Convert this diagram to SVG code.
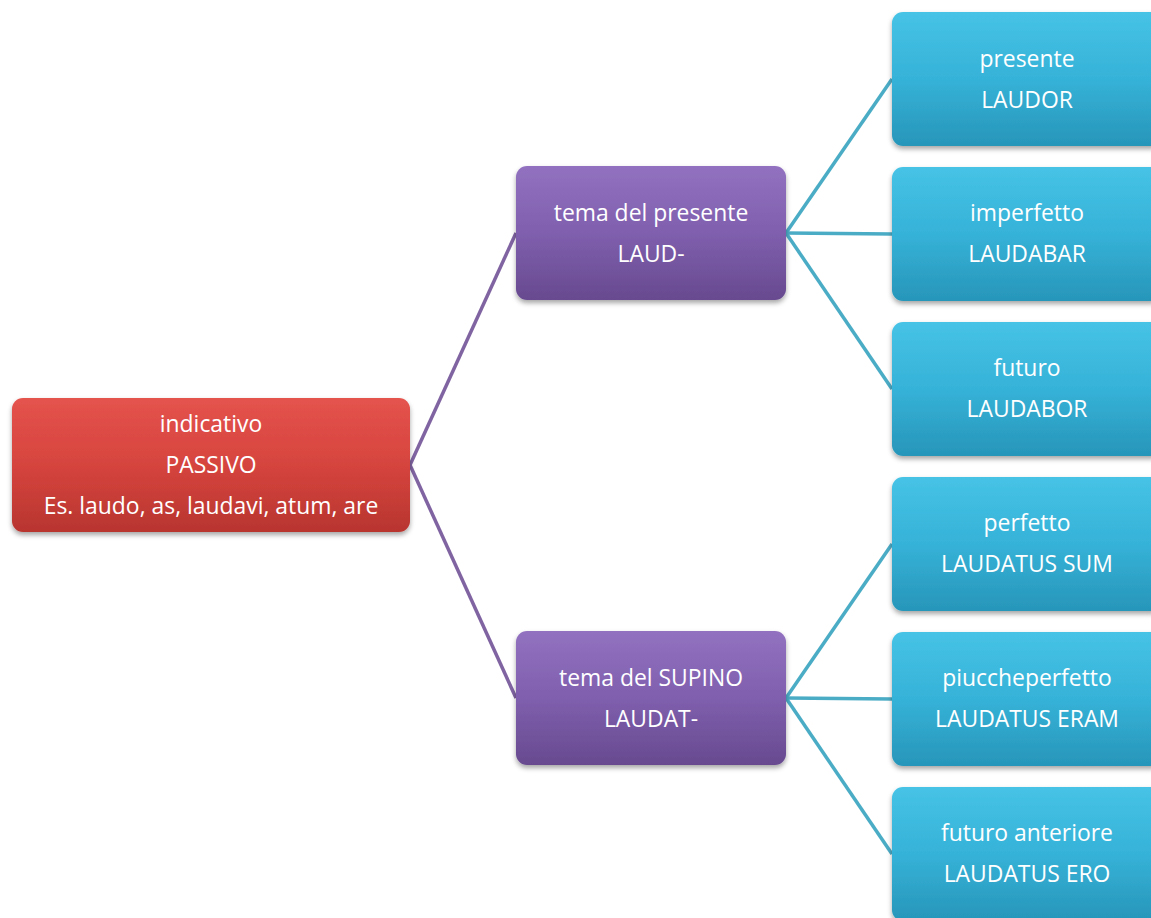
<svg xmlns="http://www.w3.org/2000/svg" width="1151" height="918" viewBox="0 0 1151 918">
<style>
.t{font-family:"Open Sans","Liberation Sans",Arial,sans-serif;font-size:22.9px;font-weight:500;fill:#ffffff;text-anchor:middle}
.cp{stroke:#8064a2;stroke-width:3.5;fill:none}
.cb{stroke:#4bacc6;stroke-width:3.5;fill:none}
</style>
<defs>
<linearGradient id="gr" x1="0" y1="0" x2="0" y2="1"><stop offset="0" stop-color="#e5534e"/><stop offset="0.5" stop-color="#d6443e"/><stop offset="1" stop-color="#b8352f"/></linearGradient>
<linearGradient id="gp" x1="0" y1="0" x2="0" y2="1"><stop offset="0" stop-color="#9272c0"/><stop offset="0.5" stop-color="#7f5fae"/><stop offset="1" stop-color="#674a8f"/></linearGradient>
<linearGradient id="gb" x1="0" y1="0" x2="0" y2="1"><stop offset="0" stop-color="#46c3e6"/><stop offset="0.5" stop-color="#36b2d8"/><stop offset="1" stop-color="#2796b9"/></linearGradient>
<filter id="sh" x="-10%" y="-10%" width="120%" height="130%"><feDropShadow dx="0" dy="3" stdDeviation="2.5" flood-color="#000" flood-opacity="0.35"/></filter>
</defs>
<g id="connectors">
<path class="cp" d="M410 465 L516 233"/>
<path class="cp" d="M410 465 L516 698"/>
<path class="cb" d="M786 233 L892 79"/>
<path class="cb" d="M786 233 L892 234"/>
<path class="cb" d="M786 233 L892 389"/>
<path class="cb" d="M786 698 L892 544"/>
<path class="cb" d="M786 698 L892 699"/>
<path class="cb" d="M786 698 L892 854"/>
</g>
<g id="n-indicativo">
<rect x="12" y="398" width="398" height="134" rx="11" fill="url(#gr)" filter="url(#sh)"/>
<text class="t" x="211" y="432">indicativo</text>
<text class="t" x="211" y="473">PASSIVO</text>
<text class="t" x="211" y="514">Es. laudo, as, laudavi, atum, are</text>
</g>
<g id="n-tema-presente">
<rect x="516" y="166" width="270" height="134" rx="11" fill="url(#gp)" filter="url(#sh)"/>
<text class="t" x="651" y="221">tema del presente</text>
<text class="t" x="651" y="262">LAUD-</text>
</g>
<g id="n-tema-supino">
<rect x="516" y="631" width="270" height="134" rx="11" fill="url(#gp)" filter="url(#sh)"/>
<text class="t" x="651" y="686">tema del SUPINO</text>
<text class="t" x="651" y="727">LAUDAT-</text>
</g>
<g id="n-presente">
<rect x="892" y="12" width="270" height="134" rx="11" fill="url(#gb)" filter="url(#sh)"/>
<text class="t" x="1027" y="67">presente</text>
<text class="t" x="1027" y="108">LAUDOR</text>
</g>
<g id="n-imperfetto">
<rect x="892" y="167" width="270" height="134" rx="11" fill="url(#gb)" filter="url(#sh)"/>
<text class="t" x="1027" y="221">imperfetto</text>
<text class="t" x="1027" y="262">LAUDABAR</text>
</g>
<g id="n-futuro">
<rect x="892" y="322" width="270" height="134" rx="11" fill="url(#gb)" filter="url(#sh)"/>
<text class="t" x="1027" y="376">futuro</text>
<text class="t" x="1027" y="417">LAUDABOR</text>
</g>
<g id="n-perfetto">
<rect x="892" y="477" width="270" height="134" rx="11" fill="url(#gb)" filter="url(#sh)"/>
<text class="t" x="1027" y="531">perfetto</text>
<text class="t" x="1027" y="572">LAUDATUS SUM</text>
</g>
<g id="n-piuccheperfetto">
<rect x="892" y="632" width="270" height="134" rx="11" fill="url(#gb)" filter="url(#sh)"/>
<text class="t" x="1027" y="686">piuccheperfetto</text>
<text class="t" x="1027" y="727">LAUDATUS ERAM</text>
</g>
<g id="n-futuro-anteriore">
<rect x="892" y="787" width="270" height="134" rx="11" fill="url(#gb)" filter="url(#sh)"/>
<text class="t" x="1027" y="841">futuro anteriore</text>
<text class="t" x="1027" y="882">LAUDATUS ERO</text>
</g>
</svg>
